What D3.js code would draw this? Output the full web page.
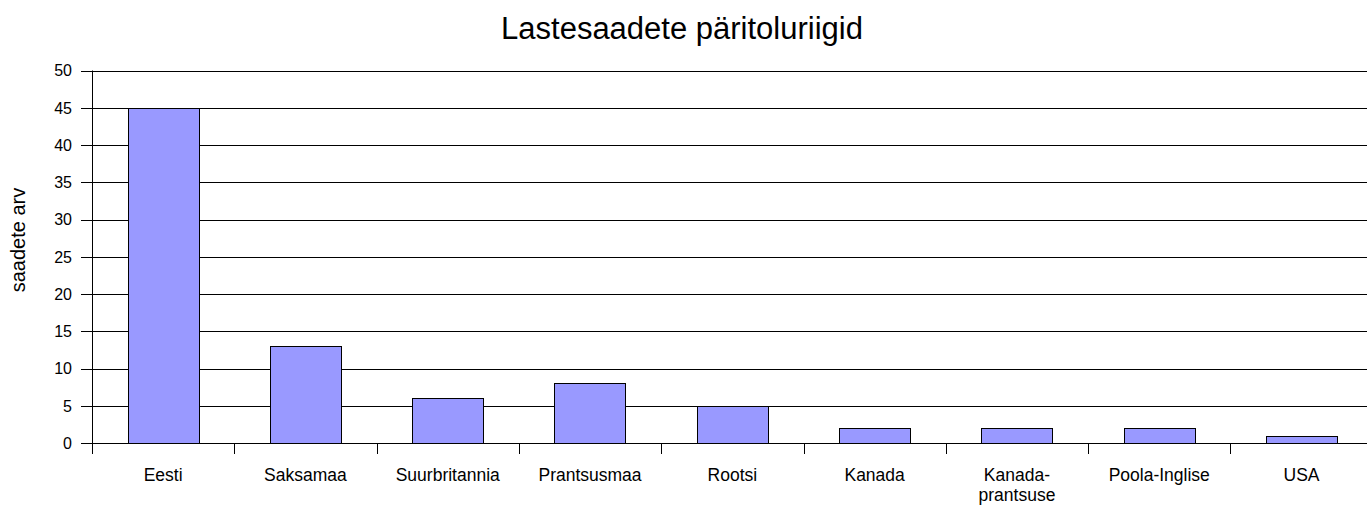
<!DOCTYPE html>
<html>
<head>
<meta charset="utf-8">
<script src="https://cdn.jsdelivr.net/npm/d3@7"></script>
<style>
  body { margin: 0; background: #fff; }
  text { font-family: "Liberation Sans", Arial, sans-serif; }
</style>
</head>
<body>
<div id="chart"></div>
<script>
// andmed
const categories = ["Eesti", "Saksamaa", "Suurbritannia", "Prantsusmaa", "Rootsi", "Kanada", "Kanada-prantsuse", "Poola-Inglise", "USA"];
const values = [45, 13, 6, 8, 5, 2, 2, 2, 1];
const yTicks = [0, 5, 10, 15, 20, 25, 30, 35, 40, 45, 50];

var width = 1367, height = 506;
var plotLeft = 92, plotTop = 70.5, plotBottom = 443;
var band = 142.3;

var svg = d3.select('#chart').append('svg')
  .attr('width', width)
  .attr('height', height);

var x = d3.scaleBand()
  .domain(categories)
  .range([plotLeft, plotLeft + band * categories.length])
  .paddingInner(0.5)
  .paddingOuter(0.25);

var y = d3.scaleLinear()
  .domain([0, 50])
  .range([plotBottom, plotTop]);

// ruudustik
svg.append('g')
  .selectAll('line')
  .data(yTicks)
  .enter().append('line')
  .attr('x1', plotLeft - 11)
  .attr('x2', width)
  .attr('y1', d => Math.round(y(d)) + 0.5)
  .attr('y2', d => Math.round(y(d)) + 0.5)
  .attr('stroke', '#000')
  .attr('stroke-width', 1);

// y telje numbrid
svg.append('g')
  .selectAll('text')
  .data(yTicks)
  .enter().append('text')
  .attr('x', 72)
  .attr('y', d => y(d))
  .attr('dy', '0.36em')
  .attr('text-anchor', 'end')
  .attr('font-size', 16)
  .text(d => d);

// tulbad
svg.append('g')
  .selectAll('rect')
  .data(values)
  .enter().append('rect')
  .attr('x', (d, i) => Math.round(x(categories[i])) + 0.5)
  .attr('y', d => Math.round(y(d)) + 0.5)
  .attr('width', Math.round(x.bandwidth()))
  .attr('height', d => Math.round(y(0)) - Math.round(y(d)))
  .attr('fill', '#9999FF')
  .attr('stroke', '#000')
  .attr('stroke-width', 1);

// y telg
svg.append('line')
  .attr('x1', plotLeft + 0.5).attr('x2', plotLeft + 0.5)
  .attr('y1', plotTop).attr('y2', plotBottom + 11)
  .attr('stroke', '#000');

// x telje kriipsud
var tickX = d3.range(categories.length + 1).map(i => plotLeft + band * i);
svg.append('g')
  .selectAll('line')
  .data(tickX)
  .enter().append('line')
  .attr('x1', d => Math.round(d) + 0.5)
  .attr('x2', d => Math.round(d) + 0.5)
  .attr('y1', plotBottom)
  .attr('y2', plotBottom + 11)
  .attr('stroke', '#000');

// x telje nimed
var xl = svg.append('g')
  .selectAll('text')
  .data(categories)
  .enter().append('text')
  .attr('x', d => x(d) + x.bandwidth() / 2)
  .attr('y', 481)
  .attr('text-anchor', 'middle')
  .attr('font-size', 17.5);

xl.each(function (d) {
  var t = d3.select(this);
  if (d == "Kanada-prantsuse") {
    t.append('tspan').attr('x', x(d) + x.bandwidth() / 2).text("Kanada-");
    t.append('tspan').attr('x', x(d) + x.bandwidth() / 2).attr('dy', 20).text("prantsuse");
  } else {
    t.text(d);
  }
});

// pealkiri
svg.append('text')
  .attr('x', 682)
  .attr('y', 39)
  .attr('text-anchor', 'middle')
  .attr('font-size', 31)
  .text("Lastesaadete päritoluriigid");

// y telje nimi
svg.append('text')
  .attr('transform', 'translate(25,240) rotate(-90)')
  .attr('text-anchor', 'middle')
  .attr('font-size', 20)
  .text("saadete arv");
</script>
</body>
</html>
